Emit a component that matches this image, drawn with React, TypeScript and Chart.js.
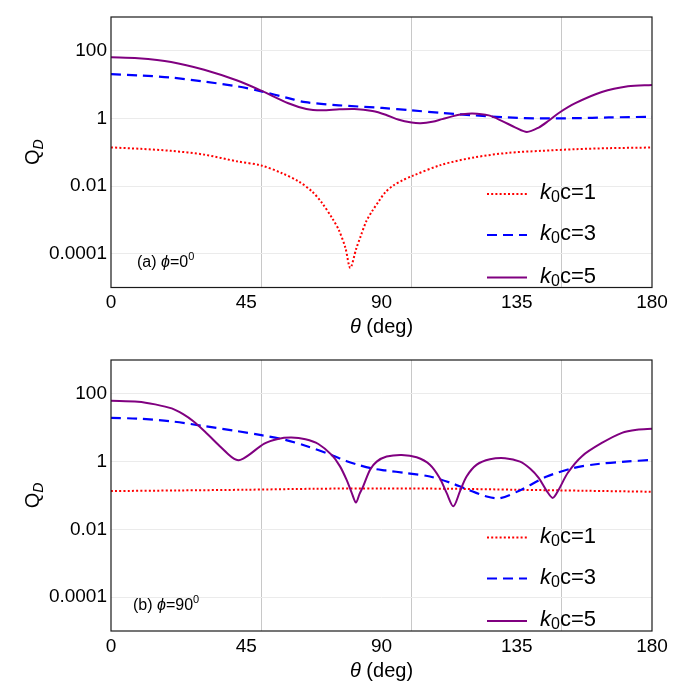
import { useEffect, useRef } from "react";
import { Chart, registerables } from "chart.js";
import type { Plugin } from "chart.js";

Chart.register(...registerables);

const FONT = "'Liberation Sans', Arial, Helvetica, sans-serif";

// axes
const thetaStep = 45;
const thetaGridLines = [50, 100, 150];
const qTicks = [0.0001, 0.01, 1, 100];
const kcLabels = ["1", "3", "5"];

// (a) phi = 0
const thetaA1 = [0, 10, 20, 31, 42, 50, 56.9, 62.4, 66.9, 70.2, 73.6, 75.8, 78, 79.6, 81.6, 83, 84.9, 86.9, 89.1, 91.3, 94, 97, 100, 110, 121, 132, 143, 154.5, 165.6, 180];
const qA1 = [0.139, 0.126, 0.11, 0.0851, 0.0537, 0.0407, 0.024, 0.0138, 0.00692, 0.00316, 0.00112, 0.000501, 0.000148, 0.000038, 0.000141, 0.000316, 0.000891, 0.00182, 0.00355, 0.00661, 0.0105, 0.0148, 0.0195, 0.0427, 0.0708, 0.0955, 0.11, 0.123, 0.132, 0.138];

const thetaA3 = [0, 10, 20, 31, 42, 50, 59, 64.7, 75.8, 90.2, 100, 110, 121, 132, 143, 154.5, 165.6, 180];
const qA3 = [20.4, 18.6, 16.2, 12.3, 8.91, 6.31, 3.98, 3.02, 2.45, 2.04, 1.74, 1.45, 1.23, 1.07, 1.0, 1.02, 1.07, 1.12];

const thetaA5 = [0, 9, 20, 31, 42, 50, 59, 65, 70, 76, 81, 87, 91.4, 95.8, 100, 103, 106.9, 110.2, 113.5, 116.8, 120.2, 125.7, 130, 134.6, 138.4, 142.3, 145.6, 149, 154.5, 163.3, 172, 180];
const qA5 = [64.6, 60.3, 46.8, 27.5, 13.2, 6.61, 2.82, 1.91, 1.74, 1.86, 1.91, 1.66, 1.29, 0.912, 0.759, 0.724, 0.794, 0.955, 1.15, 1.32, 1.41, 1.23, 0.851, 0.537, 0.398, 0.537, 0.851, 1.45, 2.82, 6.03, 8.91, 9.77];

// (b) phi = 90
const thetaB1 = [0, 22.5, 45, 67.5, 90, 112.5, 135, 157.5, 180];
const qB1 = [0.135, 0.141, 0.148, 0.158, 0.162, 0.158, 0.148, 0.138, 0.129];

const thetaB3 = [0, 9, 20, 31, 42, 50, 58, 64.7, 73.5, 78.2, 82.4, 87.3, 91.3, 98.4, 106.1, 112.8, 118.3, 125, 129.4, 136, 145, 153.8, 162, 171, 180];
const qB3 = [19.5, 18.6, 15.5, 11.2, 7.94, 6.03, 4.37, 2.95, 1.55, 1.05, 0.794, 0.617, 0.55, 0.457, 0.363, 0.24, 0.155, 0.0933, 0.0832, 0.141, 0.363, 0.646, 0.851, 1.0, 1.12];

const thetaB5 = [0, 9, 14.7, 20.2, 24, 27.4, 31.3, 35.8, 39.1, 41, 42.4, 44, 45.8, 51, 55.5, 60, 64.7, 69, 73.5, 76.2, 78.4, 80, 81.5, 82.7, 83.9, 86.2, 88.4, 91.7, 96.7, 101.7, 106.1, 109.4, 111.7, 113.9, 116.1, 118.3, 121.7, 126.1, 131.1, 136.1, 139.5, 142.3, 145, 147, 149, 152, 156.7, 163.3, 170, 175, 180];
const qB5 = [63.1, 58.9, 49.0, 37.2, 25.1, 15.5, 7.59, 3.09, 1.62, 1.2, 1.1, 1.23, 1.55, 3.39, 4.68, 5.13, 4.57, 3.31, 1.55, 0.724, 0.288, 0.126, 0.0617, 0.112, 0.186, 0.575, 1.0, 1.41, 1.58, 1.35, 0.813, 0.324, 0.117, 0.0479, 0.132, 0.363, 0.813, 1.17, 1.26, 1.0, 0.617, 0.331, 0.135, 0.0851, 0.151, 0.468, 1.45, 3.55, 7.08, 8.71, 9.33];

type Series = { theta: number[]; q: number[] };

type PanelProps = {
  series: Series[];
  tag: string;
  phi: string;
  padTop: number;
  axisHeight: number;
  tagX: number;
  tagY: number;
};

const lineStyles = [
  { color: "#ff0000", dash: [2, 2.2], width: 2 },
  { color: "#0000ff", dash: [10, 6], width: 2.2 },
  { color: "#800080", dash: [] as number[], width: 2 },
];

type Run = { t: string; size: number; italic?: boolean; dy?: number };

function drawRuns(ctx: CanvasRenderingContext2D, runs: Run[], x: number, y: number, center = false) {
  const font = (r: Run) => `${r.italic ? "italic " : ""}${r.size}px ${FONT}`;
  let w = 0;
  for (const r of runs) {
    ctx.font = font(r);
    w += ctx.measureText(r.t).width;
  }
  let cx = center ? x - w / 2 : x;
  ctx.textAlign = "left";
  ctx.textBaseline = "alphabetic";
  for (const r of runs) {
    ctx.font = font(r);
    ctx.fillText(r.t, cx, y + (r.dy ?? 0));
    cx += ctx.measureText(r.t).width;
  }
}

function decorations(p: PanelProps): Plugin<"line"> {
  return {
    id: "decorations",
    afterDraw(chart) {
      const { ctx, chartArea: a } = chart;
      ctx.save();

      // frame
      ctx.strokeStyle = "#1a1a1a";
      ctx.lineWidth = 1.2;
      ctx.strokeRect(a.left, a.top, a.right - a.left, a.bottom - a.top);

      // legend
      const rows = [-93.5, -52.5, -10];
      kcLabels.forEach((lab, i) => {
        const y = a.bottom + rows[i];
        const s = lineStyles[i];
        ctx.strokeStyle = s.color;
        ctx.lineWidth = s.width;
        ctx.setLineDash(s.dash);
        ctx.beginPath();
        ctx.moveTo(a.right - 165, y);
        ctx.lineTo(a.right - 125, y);
        ctx.stroke();
        ctx.setLineDash([]);
        ctx.fillStyle = "#000";
        drawRuns(
          ctx,
          [
            { t: "k", size: 22, italic: true },
            { t: "0", size: 16, dy: 3 },
            { t: "c=" + lab, size: 22 },
          ],
          a.right - 112,
          y + 5
        );
      });

      // panel tag
      ctx.fillStyle = "#000";
      drawRuns(
        ctx,
        [
          { t: `(${p.tag}) `, size: 16 },
          { t: "ϕ", size: 16, italic: true },
          { t: "=" + p.phi, size: 16 },
          { t: "0", size: 11, dy: -7 },
        ],
        a.left + p.tagX,
        a.bottom - p.tagY
      );

      // x title
      drawRuns(
        ctx,
        [
          { t: "θ", size: 20, italic: true },
          { t: " (deg)", size: 20 },
        ],
        (a.left + a.right) / 2,
        a.bottom + 45.5,
        true
      );

      // y title
      ctx.translate(24, (a.top + a.bottom) / 2);
      ctx.rotate(-Math.PI / 2);
      drawRuns(
        ctx,
        [
          { t: "Q", size: 20 },
          { t: "D", size: 14, italic: true, dy: 4 },
        ],
        0,
        7,
        true
      );

      ctx.restore();
    },
  };
}

function Panel(p: PanelProps) {
  const canvasRef = useRef<HTMLCanvasElement | null>(null);

  useEffect(() => {
    if (!canvasRef.current) return;

    const chart = new Chart(canvasRef.current, {
      type: "line",
      data: {
        datasets: p.series
          .map((s, i) => ({
            label: "k0c=" + kcLabels[i],
            data: s.theta.map((t, j) => ({ x: t, y: s.q[j] })),
            borderColor: lineStyles[i].color,
            borderDash: lineStyles[i].dash,
            borderWidth: lineStyles[i].width,
            pointRadius: 0,
            fill: false,
            tension: 0.3,
          }))
          .reverse(),
      },
      options: {
        responsive: true,
        maintainAspectRatio: false,
        animation: false,
        layout: { padding: { top: p.padTop, right: 32, left: 0, bottom: 0 } },
        plugins: {
          legend: { display: false },
          tooltip: { enabled: false },
        },
        scales: {
          x: {
            type: "linear",
            min: 0,
            max: 180,
            ticks: {
              stepSize: thetaStep,
              color: "#000",
              padding: 4,
              maxRotation: 0,
              font: { size: 19, family: FONT },
            },
            grid: { display: false, drawTicks: false },
            border: { display: false },
            afterFit: (s) => {
              s.height = p.axisHeight;
            },
          },
          xg: {
            type: "linear",
            position: "top",
            min: 0,
            max: 180,
            afterBuildTicks: (s) => {
              s.ticks = thetaGridLines.map((v) => ({ value: v }));
            },
            ticks: { display: false },
            grid: { color: "#c8c8c8", lineWidth: 1, drawTicks: false },
            border: { display: false },
            afterFit: (s) => {
              s.height = 0;
            },
          },
          y: {
            type: "logarithmic",
            min: 1e-5,
            max: 1e3,
            afterBuildTicks: (s) => {
              s.ticks = qTicks.map((v) => ({ value: v }));
            },
            ticks: {
              color: "#000",
              padding: 4,
              font: { size: 19, family: FONT },
              callback: (v) => String(v),
            },
            grid: { color: "#ebebeb", lineWidth: 1, drawTicks: false },
            border: { display: false },
            afterFit: (s) => {
              s.width = 103;
              s.paddingTop = 0;
              s.paddingBottom = 0;
            },
          },
        },
      },
      plugins: [decorations(p)],
    });

    return () => chart.destroy();
  }, [p]);

  return (
    <div style={{ position: "relative", width: 676, height: 340 }}>
      <canvas ref={canvasRef}></canvas>
    </div>
  );
}

const panelA: PanelProps = {
  series: [
    { theta: thetaA1, q: qA1 },
    { theta: thetaA3, q: qA3 },
    { theta: thetaA5, q: qA5 },
  ],
  tag: "a",
  phi: "0",
  padTop: 9,
  axisHeight: 60.5,
  tagX: 26,
  tagY: 21,
};

const panelB: PanelProps = {
  series: [
    { theta: thetaB1, q: qB1 },
    { theta: thetaB3, q: qB3 },
    { theta: thetaB5, q: qB5 },
  ],
  tag: "b",
  phi: "90",
  padTop: 12,
  axisHeight: 57,
  tagX: 22,
  tagY: 21,
};

export default function App() {
  return (
    <div style={{ background: "#fff" }}>
      <Panel {...panelA} />
      <Panel {...panelB} />
    </div>
  );
}
